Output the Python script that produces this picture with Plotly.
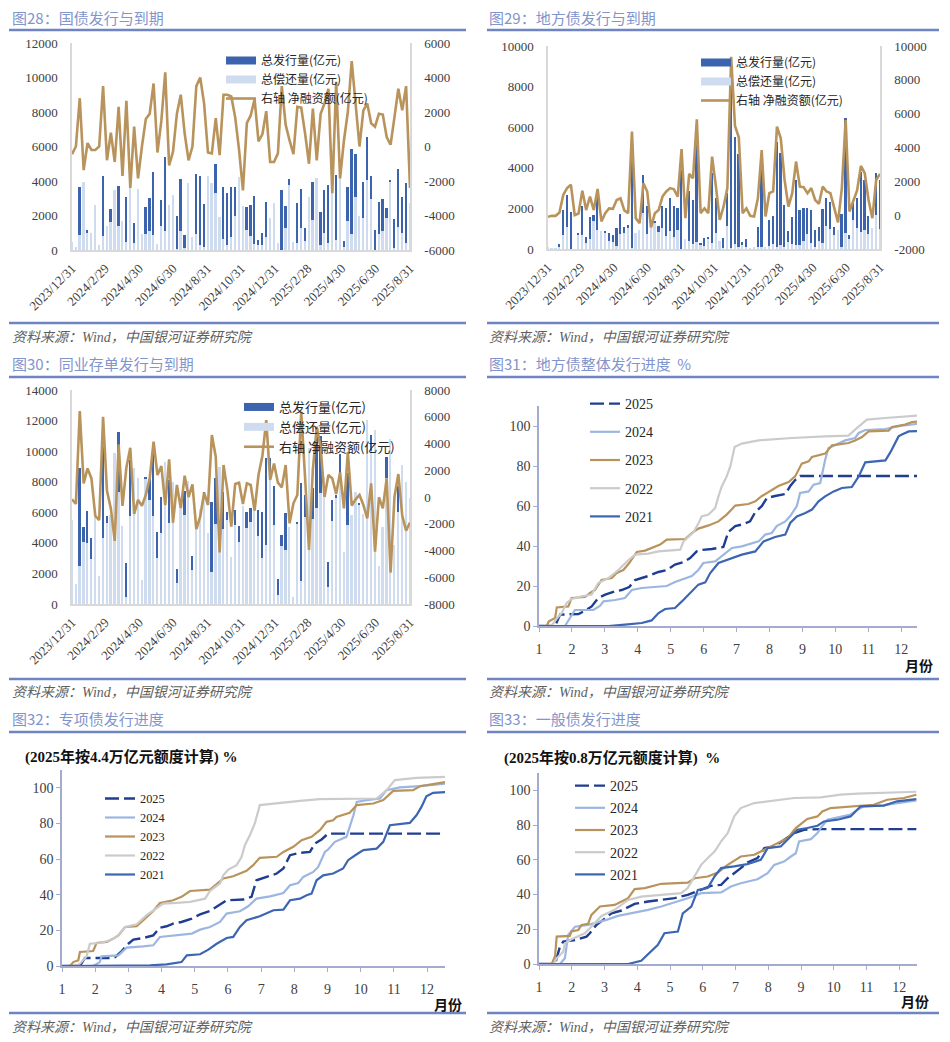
import pandas as pd
import plotly.graph_objects as go

# canvas (the page adds an 8px body margin, so the figure is drawn 8px in and 16px smaller)
OFF = 8
FW, FH = 934, 1026

# ---------------- data ----------------
weeks = pd.date_range("2023-12-31", periods=88, freq="7D")
date_ticks = ["2023-12-31", "2024-02-29", "2024-04-30", "2024-06-30", "2024-08-31", "2024-10-31",
              "2024-12-31", "2025-02-28", "2025-04-30", "2025-06-30", "2025-08-31"]
date_labels = ["2023/12/31", "2024/2/29", "2024/4/30", "2024/6/30", "2024/8/31", "2024/10/31",
               "2024/12/31", "2025/2/28", "2025/4/30", "2025/6/30", "2025/8/31"]

# 图28 国债
gz_issue = [0, 200, 3660, 2580, 1160, 760, 2400, 300, 4300, 600,
            2400, 2550, 3700, 0, 3100, 1200, 1580, 1700, 950, 2500,
            3000, 4500, 0, 2900, 5400, 1500, 2900, 1950, 4100, 870,
            3060, 730, 4400, 4300, 2660, 3950, 3460, 4980, 1430, 3660,
            3300, 3660, 3660, 4040, 0, 2500, 2600, 3120, 580, 1000,
            2800, 930, 1800, 0, 3500, 2550, 4100, 0, 2700, 3510,
            1250, 2090, 3950, 3350, 2200, 3470, 3760, 3090, 4340, 2300,
            500, 3660, 5880, 5550, 2000, 3950, 6560, 4280, 1150, 2800,
            2930, 2410, 4050, 1770, 4670, 3090, 3900, 300]
gz_repay = [450, 200, 860, 3950, 960, 960, 2600, 300, 800, 1400,
            1600, 3450, 1400, 1700, 450, 3600, 430, 3550, 950, 900,
            1100, 850, 350, 1400, 1100, 2600, 3200, 50, 1100, 120,
            3860, 730, 900, 300, 160, 4300, 3860, 3330, 1930, 660,
            300, 760, 1960, 4240, 2550, 1150, 800, 370, 280, 300,
            750, 1830, 2700, 400, 0, 1300, 3750, 450, 400, 1260,
            500, 3090, 1750, 4150, 300, 970, 410, 5790, 590, 4150,
            150, 1660, 930, 3050, 2000, 1850, 4060, 2930, 0, 900,
            1080, 1860, 3950, 70, 1320, 990, 400, 2700]
gz_net = [-450, 0, 2800, -1370, 200, -200, -200, 0, 3500, -800,
          800, -900, 2300, -1700, 2650, -2400, 1150, -1850, 0, 1600,
          1900, 3650, -350, 1500, 4300, -1100, -300, 1900, 3000, 750,
          -800, 0, 3500, 4000, 2500, -350, -400, 1650, -500, 3000,
          3000, 2900, 1700, -200, -2550, 1350, 1800, 2750, 300, 700,
          2050, -900, -900, -400, 3500, 1250, 350, -450, 2300, 2250,
          750, -1000, 2200, -800, 1900, 2500, 3350, -2700, 3750, -1850,
          350, 2000, 4950, 2500, 0, 2100, 2500, 1350, 1150, 1900,
          1850, 550, 100, 1700, 3350, 2100, 3500, -2400]

# 图29 地方债
df_issue = [0, 0, 0, 260, 1900, 2670, 1800, 0, 800, 2130,
            590, 1600, 1690, 2510, 500, 900, 790, 700, 1030, 1740,
            1080, 1160, 4950, 600, 480, 3650, 2130, 300, 1400, 1150,
            2130, 2020, 2510, 2130, 2020, 3900, 310, 2840, 2430, 6000,
            300, 540, 600, 3740, 2510, 100, 540, 2750, 9400, 5540,
            4700, 330, 490, 0, 0, 1070, 3900, 0, 1440, 1640,
            5290, 4750, 2180, 870, 1570, 3380, 1900, 2020, 2020, 1900,
            950, 1070, 1980, 2510, 2300, 1080, 520, 1700, 6440, 700,
            2340, 2510, 3770, 3410, 1640, 850, 3740, 3410]
df_repay = [100, 40, 40, 100, 700, 1070, 0, 0, 700, 680,
            290, 500, 1390, 960, 870, 780, 390, 330, 130, 740,
            800, 1040, 10, 780, 950, 1760, 730, 1030, 1280, 850,
            1030, 620, 910, 600, 920, 0, 490, 400, 250, 340,
            180, 140, 480, 280, 810, 380, 40, 1150, 40, 270,
            100, 210, 90, 40, 80, 70, 50, 80, 140, 240,
            60, 210, 100, 360, 270, 210, 210, 370, 720, 300,
            50, 400, 290, 1110, 1000, 680, 950, 100, 810, 480,
            1440, 1050, 860, 930, 740, 1030, 1660, 970]
df_net = [-100, -40, -40, 160, 1200, 1600, 1800, 0, 100, 1450,
          300, 1100, 300, 1550, -370, 120, 400, 370, 900, 1000,
          280, 120, 4940, -180, -470, 1890, 1400, -730, 120, 300,
          1100, 1400, 1600, 1530, 1100, 3900, -180, 2440, 2180, 5660,
          120, 400, 120, 3460, 1700, -280, 500, 1600, 9360, 5270,
          4600, 120, 400, -40, -80, 1000, 3850, -80, 1300, 1400,
          5230, 4540, 2080, 510, 1300, 3170, 1690, 1650, 1300, 1600,
          900, 670, 1690, 1400, 1300, 400, -430, 1600, 5630, 220,
          900, 1460, 2910, 2480, 900, -180, 2080, 2440]

# 图30 同业存单
ncd_issue = [5340, 790, 8880, 5070, 6100, 4310, 4270, 100, 10300, 5770,
             5000, 6620, 11280, 4450, 2680, 9430, 7610, 8010, 940, 8340,
             8200, 9860, 4680, 6970, 8720, 8120, 6050, 2290, 5350, 7420,
             8050, 3160, 2700, 4730, 7360, 4040, 6700, 8270, 4840, 7310,
             6000, 890, 6160, 5120, 5860, 5990, 6270, 5790, 6120, 6050,
             9580, 9540, 7700, 1630, 4530, 5940, 3100, 0, 5360, 7900,
             7140, 6230, 7600, 11540, 11000, 8340, 2740, 6810, 7140, 9800,
             2550, 8560, 5180, 7190, 6600, 5280, 10450, 11060, 7310, 2480,
             4220, 9640, 5130, 3870, 7730, 7710, 5440, 5000]
ncd_repay = [5510, 1310, 2460, 4050, 3960, 2920, 5690, 1820, 4300, 5300,
             5850, 9900, 7350, 5120, 470, 5750, 8880, 8230, 1590, 8190,
             6810, 5730, 3040, 4660, 9320, 5310, 7970, 1390, 6200, 5830,
             8050, 2210, 5110, 6200, 7040, 4640, 2070, 5260, 8990, 4920,
             5480, 3100, 5190, 4050, 6380, 4970, 5370, 6810, 4480, 2990,
             3830, 8270, 5190, 560, 3810, 3550, 5070, 470, 5210, 1530,
             5700, 10190, 5530, 6290, 7290, 8340, 1100, 5420, 6920, 7960,
             3400, 5180, 5830, 7360, 6450, 5880, 12040, 10040, 11390, 2500,
             5070, 8250, 10780, 3870, 6010, 9100, 7950, 6920]
ncd_net = [-170, -520, 6420, 1020, 2140, 1390, -1420, -1720, 6000, 470,
           -850, -3280, 3930, -670, 2210, 3680, -1270, -220, -650, 150,
           1390, 4130, 1640, 2310, -600, 2810, -1920, 900, -850, 1590,
           0, 950, -2410, -1470, 320, -600, 4630, 3010, -4150, 2390,
           520, -2210, 970, 1070, -520, 1020, 900, -1020, 1640, 3060,
           5750, 1270, 2510, 1070, 720, 2390, -1970, -470, 150, 6370,
           1440, -3960, 2070, 5250, 3710, 0, 1640, 1390, 220, 1840,
           -850, 3380, -650, -170, 150, -600, -1590, 1020, -4080, -20,
           -850, 1390, -5650, 0, 1720, -1390, -2510, -1920]

# 图31 地方债整体发行进度 (x = 月份, y = %)
p31_2025_x = [1, 1.49, 1.64, 2.20, 2.40, 2.60, 2.80, 3.01, 3.31, 3.51, 3.74, 3.92, 4.12, 4.32, 4.63, 4.88, 5.13, 5.39,
              5.59, 5.79, 5.94, 6.25, 6.60, 6.75, 6.96, 7.16, 7.41, 7.57, 7.77, 7.92, 8.17, 8.48, 8.63, 8.78, 8.93, 12.53]
p31_2025_y = [0, 0, 5.7, 6, 7.7, 9.8, 14, 15.7, 17.3, 18, 19.5, 23, 24, 25, 27, 28, 30.7, 32,
              34, 37.3, 38, 38.5, 39.5, 47, 50, 50.7, 52.3, 57, 60, 64, 65, 66, 70, 73, 75, 75]
p31_2024_x = [1, 1.79, 1.94, 2.09, 2.65, 2.85, 2.96, 3.31, 3.61, 3.82, 4.12, 4.53, 4.88, 5.13, 5.39, 5.64, 5.84, 5.99,
              6.35, 6.55, 6.86, 7.16, 7.46, 7.67, 7.87, 8.07, 8.22, 8.48, 8.63, 8.83, 8.93, 9.19, 9.34, 9.54, 9.69,
              9.79, 9.90, 10.30, 10.60, 10.71, 10.91, 11.52, 11.82, 12.02, 12.53]
p31_2024_y = [0, 0, 4, 8, 8, 10, 12.3, 13, 14, 18, 19, 19.5, 20, 22, 23.5, 25, 28, 31.5,
              32.3, 35, 39, 39.8, 41.5, 42.3, 45.7, 46.5, 50, 52.3, 55, 60, 66.5, 67.3, 70.7, 71.5, 83,
              89, 89.8, 92.8, 94, 96.5, 98, 98.5, 99.5, 100.2, 101.2]
p31_2023_x = [1, 1.23, 1.30, 1.49, 1.54, 1.89, 1.99, 2.40, 2.55, 2.70, 2.90, 3.21, 3.36, 3.56, 3.74, 3.97, 4.22, 4.42,
              4.68, 4.88, 5.44, 5.64, 5.84, 6.15, 6.45, 6.70, 6.96, 7.36, 7.57, 7.77, 8.07, 8.27, 8.58, 8.78, 8.98,
              9.19, 9.29, 9.69, 9.90, 10.40, 10.60, 10.81, 11.01, 11.62, 11.72, 12.12, 12.33, 12.53]
p31_2023_y = [0, 0, 2.3, 4, 9.3, 9.8, 14, 14.5, 16.5, 18, 23, 24, 26.5, 28, 31.5, 37, 37.7, 39,
              40.7, 43.2, 43.5, 46.5, 48.7, 50.3, 52.3, 55.7, 60.2, 61, 62.3, 65, 68, 70, 72, 74.8, 81.2,
              82.3, 84.5, 86.2, 90.3, 91.5, 92.8, 94.5, 97.3, 97.7, 99.5, 100.7, 102, 102.3]
p31_2022_x = [1, 1.38, 1.49, 1.69, 1.84, 1.99, 2.30, 2.60, 2.80, 3.11, 3.41, 3.72, 3.92, 4.32, 4.63, 4.88, 5.29, 5.39,
              5.69, 5.84, 5.94, 6.15, 6.35, 6.45, 6.55, 6.70, 6.81, 6.94, 7.16, 7.67, 8.68, 9.69, 10.40, 10.60,
              10.96, 11.52, 12.53]
p31_2022_y = [0, 0, 2.8, 6.5, 11.5, 13.5, 14.8, 15.7, 21.5, 24, 28, 33, 35.7, 36.2, 37.3, 37.7, 38.2, 42.3,
              46.8, 51.2, 54.8, 55.7, 59, 64.8, 69.8, 74.8, 79.8, 89.5, 91.2, 92.8, 94, 94.8, 95.2, 98.2,
              103.2, 104, 105.2]
p31_2021_x = [1, 3.11, 3.61, 4.12, 4.42, 4.63, 4.83, 5.13, 5.34, 5.64, 5.84, 6.05, 6.20, 6.45, 6.86, 7.16, 7.57, 7.82,
              8.17, 8.48, 8.63, 8.83, 9.09, 9.29, 9.49, 9.69, 9.95, 10.20, 10.50, 10.71, 10.91, 11.21, 11.52,
              11.67, 11.77, 11.92, 12.02, 12.23, 12.53]
p31_2021_y = [0, 0, 0.7, 1.5, 2.8, 6.5, 8.5, 9, 12.3, 17.3, 20.7, 21.8, 26.5, 31.5, 34, 35.7, 37.3, 42.3,
              44.5, 45.7, 51.5, 54.8, 56.5, 58.2, 62.3, 64.8, 67.3, 69, 69.5, 74.8, 81.8, 82.3, 82.8,
              86.8, 89.8, 94.8, 95.7, 97.3, 97.5]

# 图32 专项债发行进度
p32_2025_x = [1, 1.54, 1.69, 2.45, 2.60, 2.80, 3.00, 3.15, 3.45, 3.75, 3.95, 4.15, 4.35, 4.60, 4.91, 5.16, 5.46, 5.71,
              5.96, 6.46, 6.71, 6.86, 7.16, 7.47, 7.67, 7.87, 8.17, 8.47, 8.62, 8.82, 9.02, 12.59]
p32_2025_y = [0, 0, 4.5, 4.5, 5, 8.4, 12.5, 14.8, 15.7, 17.2, 21.5, 22.3, 23.8, 24.7, 26.6, 29, 30.9, 34,
              36.9, 37.3, 38.8, 48.1, 50, 51.9, 54.7, 62.2, 63.5, 64, 68.7, 71, 74.3, 74.3]
p32_2024_x = [1, 1.94, 2.14, 2.19, 2.70, 2.95, 3.45, 3.75, 3.95, 4.35, 4.91, 5.16, 5.46, 5.76, 5.96, 6.36, 6.61, 6.86,
              7.27, 7.67, 7.87, 8.12, 8.27, 8.57, 8.72, 8.92, 9.02, 9.22, 9.57, 9.78, 9.88, 10.18, 10.58, 10.78,
              11.18, 11.78, 12.59]
p32_2024_y = [0, 0, 2.2, 5.4, 6, 10.3, 11, 11.6, 16.3, 17.2, 18.2, 20.4, 21.9, 24.7, 29.4, 30.7, 33.5, 37.8,
              39.1, 41, 45.3, 46.6, 50, 52.8, 55.6, 64, 65.4, 69.7, 72.5, 84.6, 92.1, 93.1, 94, 98.7,
              100.2, 100.9, 102.4]
p32_2023_x = [1, 1.24, 1.34, 1.49, 1.54, 1.94, 2.04, 2.35, 2.55, 2.70, 2.90, 3.25, 3.45, 3.75, 3.95, 4.35, 4.60, 4.86,
              5.46, 5.66, 5.86, 6.16, 6.56, 6.76, 6.96, 7.47, 7.67, 7.97, 8.22, 8.52, 8.77, 8.97, 9.17, 9.27,
              9.67, 9.88, 10.38, 10.68, 10.98, 11.58, 11.78, 12.18, 12.59]
p32_2023_y = [0, 0, 2.2, 3.2, 7.9, 8.4, 12.9, 13.5, 15.4, 17.2, 21.9, 22.3, 25.7, 30.9, 35.4, 36.9, 38.8, 42.1,
              42.9, 45.9, 49.1, 50.4, 53.4, 56.6, 60.7, 61.3, 64, 66.9, 70.6, 72.5, 76.2, 80.9, 81.8, 83.7,
              86, 90.3, 91.2, 93.1, 98.3, 98.7, 100.9, 102.1, 103.4]
p32_2022_x = [1, 1.39, 1.54, 1.74, 1.84, 2.14, 2.45, 2.65, 2.90, 3.25, 3.55, 3.85, 4.05, 4.45, 4.86, 5.31, 5.46, 5.76,
              5.86, 6.01, 6.26, 6.41, 6.51, 6.66, 6.81, 6.96, 7.37, 8.17, 8.77, 9.67, 10.48, 10.78, 11.03, 11.68,
              12.59]
p32_2022_y = [0, 0, 1.3, 5.4, 12.5, 12.9, 14.4, 16.3, 21.9, 23.4, 28.5, 32.2, 35, 35.4, 36, 37.8, 42.1, 46.3,
              50.9, 54.1, 56.6, 61.2, 67.8, 73.4, 80, 90.3, 91.2, 92.7, 93.6, 94, 94, 98.7, 104.3, 105.6,
              106.2]
p32_2021_x = [1, 3.15, 3.65, 4.15, 4.60, 4.76, 5.16, 5.41, 5.66, 5.96, 6.16, 6.36, 6.56, 6.96, 7.37, 7.67, 7.87, 8.17,
              8.37, 8.52, 8.67, 8.87, 9.17, 9.47, 9.62, 9.88, 10.08, 10.48, 10.68, 10.88, 11.28, 11.48, 11.68,
              11.83, 11.98, 12.18, 12.59]
p32_2021_y = [0, 0, 0.4, 0.9, 2.2, 6, 6.6, 9.2, 12.5, 15.7, 16.3, 21.9, 25.7, 27.9, 31.3, 31.6, 36.9, 37.8,
              39.7, 40.6, 48.1, 50.9, 51.9, 54.7, 59.4, 62.7, 65, 65.9, 69.7, 79, 80, 80.3, 84.6,
              89.3, 95.3, 97.2, 97.6]

# 图33 一般债发行进度
p33_2025_x = [1, 1.49, 1.64, 1.74, 2.10, 2.45, 2.55, 2.75, 2.96, 3.21, 3.52, 3.92, 4.33, 4.73, 5.14, 5.54, 5.95, 6.25,
              6.56, 6.76, 7.16, 7.36, 7.67, 7.88, 8.18, 8.48, 8.79, 9.09, 9.60, 12.52]
p33_2025_y = [0, 0, 10, 12.9, 13.8, 15.8, 17.7, 22.5, 25.4, 29.2, 30.8, 34.6, 36, 36.9, 37.9, 39.8, 42.7, 45,
              45.6, 49.4, 55.2, 58.5, 61, 66.7, 67.7, 71.5, 75.4, 77.3, 77.7, 77.7]
p33_2024_x = [1, 1.64, 1.79, 1.89, 2.10, 2.50, 2.86, 3.06, 3.41, 3.82, 4.33, 4.73, 5.14, 5.54, 5.95, 6.56, 6.86, 7.16,
              7.67, 7.98, 8.18, 8.48, 8.69, 8.84, 8.94, 9.30, 9.50, 9.60, 9.80, 10.21, 10.51, 10.72, 10.92, 11.53,
              12.52]
p33_2024_y = [0, 0, 3.3, 16.7, 21.5, 22.5, 24.4, 25.4, 27.7, 29.2, 31.2, 33.1, 35.4, 37.9, 40.8, 41.2, 44.6, 46.5,
              48.8, 52.3, 57.1, 59, 61.9, 63.8, 70.6, 71.9, 75.4, 78.3, 83.1, 84.6, 86, 88.8, 90.8, 91.5,
              94.2]
p33_2023_x = [1, 1.39, 1.49, 1.54, 1.94, 1.99, 2.20, 2.30, 2.50, 2.60, 2.86, 3.31, 3.52, 3.72, 3.92, 4.23, 4.73, 5.54,
              5.75, 6.15, 6.46, 6.76, 7.16, 7.57, 7.88, 8.18, 8.59, 8.84, 9.19, 9.50, 9.65, 9.90, 10.41, 10.82,
              11.22, 11.63, 12.14, 12.52]
p33_2023_y = [0, 0, 4.6, 15.8, 16.2, 18.7, 19.6, 22.5, 23.1, 28.3, 33.1, 34, 36, 37.9, 43.1, 43.7, 46.2, 46.9,
              49.4, 50.4, 52.7, 57.1, 61.9, 62.9, 65.8, 68.7, 72.5, 78.3, 83.5, 85, 87.9, 89.8, 90.4, 91.2,
              91.7, 94.6, 95.6, 97.5]
p33_2022_x = [1, 1.44, 1.54, 1.74, 1.79, 1.99, 2.40, 2.70, 2.91, 3.31, 3.72, 4.12, 4.73, 5.34, 5.54, 5.75, 5.95, 6.20,
              6.36, 6.56, 6.76, 6.96, 7.16, 7.57, 7.98, 8.79, 9.60, 10.21, 10.72, 11.73, 12.52]
p33_2022_y = [0, 0, 3.3, 7.1, 11.9, 14.2, 17.7, 23.5, 27.7, 31.2, 36.9, 38.8, 39.8, 40.8, 43.7, 50.4, 57.1, 61.9,
              64.8, 70.6, 75.4, 85, 89.8, 92.7, 93.7, 95.6, 96, 97.5, 98.1, 98.8, 99.2]
p33_2021_x = [1, 3.72, 4.12, 4.23, 4.43, 4.63, 4.83, 5.24, 5.39, 5.65, 5.85, 6.15, 6.36, 6.56, 6.96, 7.36, 7.77, 7.98,
              8.38, 8.59, 8.89, 9.19, 9.50, 9.70, 10.11, 10.51, 10.82, 11.53, 11.93, 12.52]
p33_2021_y = [0, 0, 1.9, 3.8, 7.1, 11, 17.7, 18.7, 29.2, 33.1, 42.7, 43.7, 50.4, 55.2, 56.2, 57.5, 60, 66.7,
              67.7, 71.9, 77.3, 78.3, 79.6, 82.1, 83.1, 85, 90.8, 91.2, 93.7, 95]

years = ["2025", "2024", "2023", "2022", "2021"]
month_ticks = [1, 2, 3, 4, 5, 6, 7, 8, 9, 10, 11, 12]
pct_ticks = [0, 20, 40, 60, 80, 100]

gz_left_ticks = [0, 2000, 4000, 6000, 8000, 10000, 12000]
gz_right_ticks = [-6000, -4000, -2000, 0, 2000, 4000, 6000]
df_left_ticks = [0, 2000, 4000, 6000, 8000, 10000]
df_right_ticks = [-2000, 0, 2000, 4000, 6000, 8000, 10000]
ncd_left_ticks = [0, 2000, 4000, 6000, 8000, 10000, 12000, 14000]
ncd_right_ticks = [-8000, -6000, -4000, -2000, 0, 2000, 4000, 6000, 8000]

titles = ["图28：国债发行与到期", "图29：地方债发行与到期", "图30：同业存单发行与到期",
          "图31：地方债整体发行进度  %", "图32：专项债发行进度", "图33：一般债发行进度"]
source = "资料来源：Wind，中国银河证券研究院"
sub32 = "(2025年按4.4万亿元额度计算) %"
sub33 = "(2025年按0.8万亿元额度计算)  %"
bar_names = ["总发行量(亿元)", "总偿还量(亿元)", "右轴 净融资额(亿元)"]

# ---------------- style ----------------
DARK = "#3B63AE"
LIGHT = "#CFDCF0"
TAN = "#B8935C"
YEAR_COLORS = ["#1F3E92", "#9CB6E2", "#B8935C", "#CBCBCB", "#3C65B2"]
SERIF = "Liberation Serif, Noto Sans CJK SC"
CJK = "Noto Sans CJK SC, Liberation Serif"
TICKC = "#404040"
TITLEC = "#8194CC"
RULEC = "#6F85C3"
GRID_GRAY = "#D9D9D9"
AXC = "#A3ABCF"
WEEK_MS = 86400000


def PX(x):
    return (x - OFF) / FW


def PY(y):
    return 1 - (y - OFF) / FH


def dx(a, b):
    return [PX(a), PX(b)]


def dy(top, bottom):
    return [PY(bottom), PY(top)]


fig = go.Figure()


def bar_panel(xa, ya, ya2, leg, issue, repay, net):
    fig.add_trace(go.Bar(x=weeks, y=issue, xaxis=xa, yaxis=ya, marker=dict(color=DARK, line=dict(width=0)),
                         width=3.2 * WEEK_MS, showlegend=False, name=bar_names[0]))
    fig.add_trace(go.Bar(x=weeks, y=repay, xaxis=xa, yaxis=ya, marker=dict(color=LIGHT, line=dict(width=0)),
                         width=3.2 * WEEK_MS, showlegend=False, name=bar_names[1]))
    # legend swatches
    fig.add_trace(go.Scatter(x=[None], y=[None], xaxis=xa, yaxis=ya, mode="lines", name=bar_names[0],
                             line=dict(color=DARK, width=8), legend=leg, legendgroup=leg + "a"))
    fig.add_trace(go.Scatter(x=[None], y=[None], xaxis=xa, yaxis=ya, mode="lines", name=bar_names[1],
                             line=dict(color=LIGHT, width=8), legend=leg, legendgroup=leg + "b"))
    fig.add_trace(go.Scatter(x=weeks, y=net, xaxis=xa, yaxis=ya2, mode="lines", name=bar_names[2],
                             line=dict(color=TAN, width=2.6), legend=leg, legendgroup=leg + "c"))


bar_panel("x", "y", "y2", "legend", gz_issue, gz_repay, gz_net)
bar_panel("x2", "y3", "y4", "legend2", df_issue, df_repay, df_net)
bar_panel("x3", "y5", "y6", "legend3", ncd_issue, ncd_repay, ncd_net)


def prog_panel(xa, ya, leg, series):
    for i, (xs, ys) in enumerate(series):
        dash = "14px,5px" if i == 0 else "solid"
        fig.add_trace(go.Scatter(x=xs, y=ys, xaxis=xa, yaxis=ya, mode="lines", name=years[i],
                                 line=dict(color=YEAR_COLORS[i], width=2.4 if i == 0 else 2.2, dash=dash),
                                 legend=leg, legendgroup=leg + years[i]))


prog_panel("x4", "y7", "legend4", [(p31_2025_x, p31_2025_y), (p31_2024_x, p31_2024_y), (p31_2023_x, p31_2023_y),
                                   (p31_2022_x, p31_2022_y), (p31_2021_x, p31_2021_y)])
prog_panel("x5", "y8", "legend5", [(p32_2025_x, p32_2025_y), (p32_2024_x, p32_2024_y), (p32_2023_x, p32_2023_y),
                                   (p32_2022_x, p32_2022_y), (p32_2021_x, p32_2021_y)])
prog_panel("x6", "y9", "legend6", [(p33_2025_x, p33_2025_y), (p33_2024_x, p33_2024_y), (p33_2023_x, p33_2023_y),
                                   (p33_2022_x, p33_2022_y), (p33_2021_x, p33_2021_y)])


def date_xaxis(dom, anchor):
    return dict(domain=dom, anchor=anchor, type="date", range=[date_ticks[0], date_ticks[-1]],
                tickmode="array", tickvals=date_ticks, ticktext=date_labels, tickangle=-45,
                showline=True, linecolor=GRID_GRAY, linewidth=1.5, ticks="", showgrid=False, zeroline=False,
                tickfont=dict(family=SERIF, size=13, color=TICKC), ticklabelstandoff=4, automargin=False)


def val_yaxis(dom, anchor, rng, ticks, side="left", overlay=None):
    d = dict(domain=dom, anchor=anchor, range=rng, tickmode="array", tickvals=ticks,
             ticktext=[str(t) for t in ticks], side=side, showline=True, linecolor=GRID_GRAY, linewidth=1.5,
             ticks="", showgrid=False, zeroline=False, tickfont=dict(family=SERIF, size=13, color=TICKC),
             ticklabelstandoff=10, automargin=False)
    if overlay:
        d["overlaying"] = overlay
    return d


def month_xaxis(dom, anchor, right):
    return dict(domain=dom, anchor=anchor, range=[1, right], tickmode="array", tickvals=month_ticks,
                ticktext=[str(m) for m in month_ticks], showline=True, linecolor=AXC, linewidth=1.5,
                ticks="outside", ticklen=4, tickcolor=AXC, tickwidth=1.2, showgrid=False, zeroline=False,
                tickfont=dict(family=SERIF, size=14, color=TICKC), ticklabelstandoff=5, automargin=False)


def pct_yaxis(dom, anchor):
    return dict(domain=dom, anchor=anchor, range=[0, 110], tickmode="array", tickvals=pct_ticks,
                ticktext=[str(t) for t in pct_ticks], showline=True, linecolor=AXC, linewidth=1.5,
                ticks="outside", ticklen=4, tickcolor=AXC, tickwidth=1.2, showgrid=False, zeroline=False,
                tickfont=dict(family=SERIF, size=14, color=TICKC), automargin=False)


def leg(xpx, toppx, size, gap, family):
    return dict(x=PX(xpx), y=PY(toppx), xanchor="left", yanchor="top", bgcolor="rgba(0,0,0,0)",
                borderwidth=0, font=dict(family=family, size=size, color="#262626"), tracegroupgap=gap,
                traceorder="grouped", itemwidth=30)


layout = dict(
    width=FW, height=FH, margin=dict(l=0, r=0, t=0, b=0, autoexpand=False), paper_bgcolor="white",
    plot_bgcolor="white", barmode="overlay", bargap=0, showlegend=True,
    xaxis=date_xaxis(dx(72, 410), "y"),
    yaxis=val_yaxis(dy(43, 250), "x", [0, 12000], gz_left_ticks),
    yaxis2=val_yaxis(dy(43, 250), "x", [-6000, 6000], gz_right_ticks, "right", "y"),
    xaxis2=date_xaxis(dx(548, 880), "y3"),
    yaxis3=val_yaxis(dy(46, 249), "x2", [0, 10000], df_left_ticks),
    yaxis4=val_yaxis(dy(46, 249), "x2", [-2000, 10000], df_right_ticks, "right", "y3"),
    xaxis3=date_xaxis(dx(72, 410), "y5"),
    yaxis5=val_yaxis(dy(390, 604), "x3", [0, 14000], ncd_left_ticks),
    yaxis6=val_yaxis(dy(390, 604), "x3", [-8000, 8000], ncd_right_ticks, "right", "y5"),
    xaxis4=month_xaxis(dx(539, 917), "y7", 12.48),
    yaxis7=pct_yaxis(dy(406, 626), "x4"),
    xaxis5=month_xaxis(dx(62, 445), "y8", 12.54),
    yaxis8=pct_yaxis(dy(770, 966), "x5"),
    xaxis6=month_xaxis(dx(539, 917), "y9", 12.54),
    yaxis9=pct_yaxis(dy(773, 964), "x6"),
    legend=leg(221, 46, 12, 0, CJK),
    legend2=leg(696, 48, 12, 0, CJK),
    legend3=leg(239, 392, 13, 0, CJK),
    legend4=leg(585, 388, 14, 7, SERIF),
    legend5=leg(100, 784, 12.3, 0, SERIF),
    legend6=leg(570, 770, 14, 1, SERIF),
)
fig.update_layout(**layout)

# titles, rules, sources
shapes = []
annotations = []
title_pos = [(10, 17), (487, 17), (10, 363), (487, 363), (10, 718), (487, 718)]
for (tx, ty), t in zip(title_pos, titles):
    annotations.append(dict(x=PX(tx), y=PY(ty), xref="paper", yref="paper", xanchor="left", yanchor="middle",
                            text=t, showarrow=False, font=dict(family=CJK, size=15, color=TITLEC)))
for ry in [30, 323, 377, 679, 732, 1013]:
    for (a, b) in [(9, 466), (487, 939)]:
        shapes.append(dict(type="line", xref="paper", yref="paper", x0=PX(a), x1=PX(b), y0=PY(ry),
                           y1=PY(ry), line=dict(color=RULEC, width=2.5)))
for sx, sy in [(10, 337), (487, 337), (10, 692), (487, 692), (10, 1027), (487, 1027)]:
    annotations.append(dict(x=PX(sx), y=PY(sy), xref="paper", yref="paper", xanchor="left", yanchor="middle",
                            text="<i>" + source + "</i>", showarrow=False,
                            font=dict(family=SERIF, size=14, color="#5F5F5F")))
for sx, sy, t in [(23, 757, sub32), (502, 758, sub33)]:
    annotations.append(dict(x=PX(sx), y=PY(sy), xref="paper", yref="paper", xanchor="left", yanchor="middle",
                            text="<b>" + t + "</b>", showarrow=False, font=dict(family=SERIF, size=15, color="#111111")))
# "月份" unit label sits just under/right of the "12" tick label
for mx, my in [(919, 665), (448, 1004), (915, 1001)]:
    annotations.append(dict(x=PX(mx), y=PY(my), xref="paper", yref="paper", xanchor="center", yanchor="middle",
                            text="<b>月份</b>", showarrow=False, font=dict(family=CJK, size=14, color="#111111")))

fig.update_layout(shapes=shapes, annotations=annotations)
fig.write_html("out.html")
